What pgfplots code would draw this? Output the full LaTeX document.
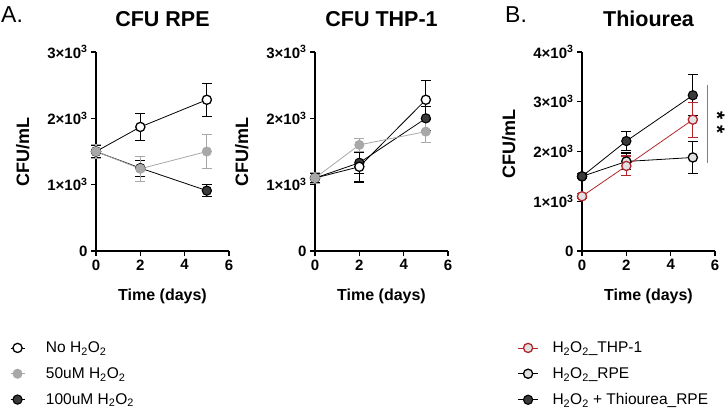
\documentclass[border=0pt]{standalone}
\usepackage{fontspec}
\setmainfont{Liberation Sans}
\usepackage{pgfplots}
\pgfplotsset{compat=1.18}

\definecolor{lgray}{HTML}{A8A8A8}
\definecolor{dgray}{HTML}{3A3A3A}
\definecolor{fillgray}{HTML}{E2E2E2}
\definecolor{thpred}{HTML}{B3262B}

\pgfplotsset{
  panel/.style={
    scale only axis, width=133pt, height=199pt,
    axis lines=left, axis line style={-, line width=1.4pt},
    xmin=0, xmax=6, xtick={0,2,4,6}, ymin=0,
    tick style={line width=1.2pt, black}, tick align=outside,
    major tick length=5pt,
    ticklabel style={font=\bfseries\fontsize{15}{16}\selectfont},
    /pgf/number format/assume math mode=true,
    xlabel={Time (days)}, ylabel={CFU/mL},
    every axis x label/.style={at={(axis description cs:0.5,0)}, anchor=center, yshift=-45pt,
      font=\bfseries\fontsize{16}{18}\selectfont},
    every axis y label/.style={at={(axis description cs:-0.55,0.5)}, anchor=center, rotate=90,
      font=\bfseries\fontsize{18}{20}\selectfont},
    every axis title/.style={at={(axis description cs:0.5,1)}, anchor=center, yshift=33pt,
      font=\bfseries\fontsize{21.5}{23}\selectfont},
    clip=false,
    every axis plot/.append style={line width=0.8pt, mark size=4.6pt,
      error bars/y dir=both, error bars/y explicit,
      error bars/error mark=-,
      error bars/error bar style={line width=1.1pt},
      error bars/error mark options={rotate=90, mark size=5pt, line width=1.1pt}},
    legend cell align=left,
  },
  noH/.style={black, mark=*, mark options={fill=white, draw=black, line width=1.3pt}},
  fifty/.style={lgray, mark=*, mark options={fill=lgray, draw=lgray}},
  hundred/.style={black, mark=*, mark options={fill=dgray, draw=black, line width=1.1pt}},
  thp/.style={thpred, mark=*, mark options={fill=fillgray, draw=thpred, line width=1.3pt}},
  rpe/.style={black, mark=*, mark options={fill=fillgray, draw=black, line width=1.3pt}},
  thio/.style={black, mark=*, mark options={fill=dgray, draw=black, line width=1.1pt}},
  keybox/.style={draw=none, fill=none, font=\fontsize{15.5}{17}\selectfont,
    row sep=9.5pt, inner sep=0pt},
}

\begin{document}
\begin{tikzpicture}
\useasboundingbox (0,0) rectangle (727pt,-418pt);

\node[anchor=north west, font=\fontsize{23}{25}\selectfont, inner sep=0pt] at (1pt,-6pt) {A.};
\node[anchor=north west, font=\fontsize{23}{25}\selectfont, inner sep=0pt] at (505pt,-6pt) {B.};

% ---- CFU RPE ----
\begin{axis}[panel, at={(96pt,-251pt)}, anchor=south west,
  title={CFU RPE}, ymax=3000, ytick={0,1000,2000,3000},
  yticklabels={0,1×10\textsuperscript{3},2×10\textsuperscript{3},3×10\textsuperscript{3}},
  legend style={keybox, at={(axis description cs:-0.647,-0.445)}, anchor=north west,
    /tikz/every odd column/.append style={column sep=19pt}},
  legend image code/.code={\draw[mark repeat=2,mark phase=2,#1] plot coordinates {(0pt,0pt)(7pt,0pt)(14pt,0pt)};},
]
\addlegendimage{noH}
\addlegendentry{No H\textsubscript{2}O\textsubscript{2}}
\addlegendimage{fifty}
\addlegendentry{50uM H\textsubscript{2}O\textsubscript{2}}
\addlegendimage{hundred}
\addlegendentry{100uM H\textsubscript{2}O\textsubscript{2}}
\addplot[noH, forget plot] table[y error=e] {
x y e
0 1500 100
2 1870 200
5 2280 250
};
\addplot[hundred, forget plot] table[y error=e] {
x y e
0 1500 90
2 1250 120
5 910 90
};
\addplot[fifty, forget plot] table[y error=e] {
x y e
0 1500 100
2 1240 190
5 1500 260
};
\end{axis}

% ---- CFU THP-1 ----
\begin{axis}[panel, at={(315pt,-251pt)}, anchor=south west,
  title={CFU THP-1}, ymax=3000, ytick={0,1000,2000,3000},
  yticklabels={0,1×10\textsuperscript{3},2×10\textsuperscript{3},3×10\textsuperscript{3}},
]
\addplot[hundred] table[y error=e] {
x y e
0 1100 70
2 1330 160
5 2000 180
};
\addplot[noH] table[y error=e] {
x y e
0 1100 80
2 1270 230
5 2280 290
};
\addplot[fifty] table[y error=e] {
x y e
0 1100 80
2 1600 100
5 1800 170
};
\end{axis}

% ---- Thiourea ----
\begin{axis}[panel, at={(582pt,-251pt)}, anchor=south west,
  title={Thiourea}, ymax=4000, ytick={0,1000,2000,3000,4000},
  yticklabels={0,1×10\textsuperscript{3},2×10\textsuperscript{3},3×10\textsuperscript{3},4×10\textsuperscript{3}},
  every axis y label/.append style={at={(axis description cs:-0.55,0.54)}},
  legend style={keybox, at={(axis description cs:-0.485,-0.445)}, anchor=north west,
    /tikz/every odd column/.append style={column sep=12pt}},
  legend image code/.code={\draw[mark repeat=2,mark phase=2,#1] plot coordinates {(0pt,0pt)(10pt,0pt)(20pt,0pt)};},
]
\addlegendimage{thp}
\addlegendentry{H\textsubscript{2}O\textsubscript{2}\_THP-1}
\addlegendimage{rpe}
\addlegendentry{H\textsubscript{2}O\textsubscript{2}\_RPE}
\addlegendimage{thio}
\addlegendentry{H\textsubscript{2}O\textsubscript{2} + Thiourea\_RPE}
\addplot[rpe, forget plot] table[y error=e] {
x y e
0 1500 50
2 1800 170
5 1880 330
};
\addplot[thio, forget plot] table[y error=e] {
x y e
0 1500 50
2 2210 190
5 3130 410
};
\addplot[thp, forget plot] table[y error=e] {
x y e
0 1100 50
2 1710 200
5 2640 350
};
% significance bracket between day-5 groups
\draw[gray, line width=1pt] (axis cs:5.68,3340) -- (axis cs:5.68,1770);
\node[font=\bfseries\fontsize{21}{22}\selectfont, rotate=-90, inner sep=0pt]
  at (axis cs:6.1,2580) {*\hspace{5pt}*};
\end{axis}
\end{tikzpicture}
\end{document}
